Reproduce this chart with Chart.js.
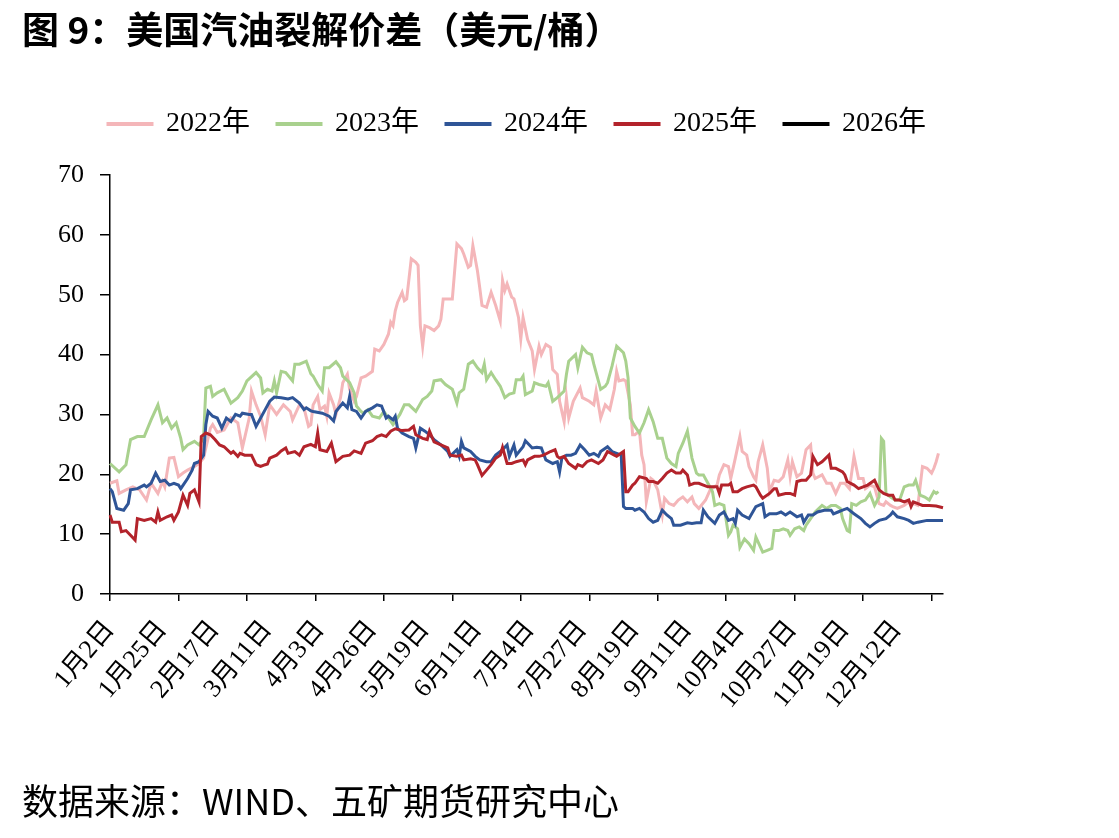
<!DOCTYPE html>
<html>
<head>
<meta charset="utf-8">
<script src="https://cdn.jsdelivr.net/npm/chart.js@4.4.1/dist/chart.umd.min.js"></script>
<style>
  body { margin: 0; background: #fff; }
  #page { position: relative; width: 1119px; height: 838px; overflow: hidden; }
  #title { position: absolute; left: 22px; top: 8px; font: 700 37px "Noto Sans CJK SC", sans-serif; line-height: 1.1; color: #000; white-space: nowrap; }
  #source { position: absolute; left: 22px; top: 780px; font: 400 36px "Noto Sans CJK SC", sans-serif; line-height: 1.1; color: #000; white-space: nowrap; }
  #wrap { position: absolute; left: 0; top: 0; width: 1119px; height: 838px; }
</style>
</head>
<body>
<div id="page">
  <div id="wrap"><canvas id="chart" aria-label="美国汽油裂解价差"></canvas></div>
  <div id="title">图 9：美国汽油裂解价差（美元/桶）</div>
  <div id="source">数据来源：WIND、五矿期货研究中心</div>
</div>
<script>
// x axis: one category per calendar day, starting 1月2日
const days = [];
for (let i = 0; i < 366; i++) {
  const d = new Date(2024, 0, 2 + i);
  days.push((d.getMonth() + 1) + '月' + d.getDate() + '日');
}

const seriesNames = ['2022年', '2023年', '2024年', '2025年', '2026年'];
const seriesColors = ['#F4B6B9', '#A9D18E', '#2F5597', '#B3232B', '#000000'];

// [day index, value]
const s2022 = [[0,18.5],[3,18.9],[4,16.8],[7,17.4],[10,17.9],[13,17.4],[16,15.7],[18,18.5],[21,16.8],[23,18.8],[24,17.9],[26,22.7],[28,22.8],[30,19.6],[32,20.2],[34,20.7],[37,21.3],[39,21.8],[41,22.7],[42,24.4],[44,27.7],[45,28.3],[47,27],[50,27.4],[53,29.4],[56,28.6],[58,24.4],[61,29.4],[62,33.9],[64,31.6],[66,29.7],[68,26.6],[70,31.6],[73,30],[76,31.6],[79,30.5],[80,29.1],[83,31.6],[85,31.1],[87,28],
  [88,28.3],[89,31.6],[91,33],[92,30.8],[94,31.4],[95,29.7],[96,33.6],[98,31.6],[99,30],[101,32.8],[102,35.3],[104,36.7],[105,34.2],[107,32.2],[108,33],[110,36.1],[112,36.4],[115,37.2],[116,40.9],[118,40.6],[120,41.7],[122,43.4],[123,45.4],[124,44.8],[125,47.3],[126,48.7],[128,50.4],[129,49],[130,49.3],[132,56],[134,55.4],[135,54.9],[136,44.8],[137,41.4],[138,44.8],[140,44.5],[142,44],[144,44.8],[145,45.9],[146,49.3],[148,49.3],[150,49.3],[152,58.5],[154,57.7],[155,56.8],[157,54.6],[158,54.9],[159,58.2],[161,54],[162,51.2],[163,48.2],[165,47.9],[167,50.4],[169,48.2],[171,45.6],[172,52.4],[173,50.7],[174,51.8],[176,49.6],[177,49.3],[179,46.2],
  [180,42.6],[181,46.2],[183,42.5],[185,40.6],[186,37.5],[188,41.4],[189,40],[191,41.7],[193,41.2],[194,37.5],[196,36.7],[197,32.2],[199,28.8],[200,32.8],[201,29.4],[203,32.2],[206,34.4],[207,32.8],[210,32.2],[212,31.6],[213,33.9],[215,29.4],[217,31.6],[219,30.8],[221,34.2],[222,37.2],[223,35.6],[225,35.8],[226,35.6],[228,31.6],[229,26.6],[230,26.6],[232,27.2],[233,23.2],[234,21.6],[235,15.4],[237,19.3],[238,19],[240,17.4],[242,13.2],[243,16],[245,15.1],[247,14.8],[249,15.7],[251,16.2],[253,15.4],[255,16.2],[256,15.1],[258,14.3],[261,15.7],[263,17.4],[266,18.2],[267,19.9],[269,21.6],[271,21.3],
  [272,19.3],[273,21],[274,22.7],[276,26.3],[277,23.8],[279,23.2],[280,21.3],[282,19.6],[283,19],[284,22.1],[286,24.9],[288,21],[289,17.1],[291,19],[293,18.8],[295,19.6],[297,22.4],[298,19.6],[299,22.1],[301,19.6],[303,20.2],[305,24.1],[307,24.9],[308,20.2],[309,19.3],[312,19.9],[314,18.5],[316,18.5],[318,16.8],[320,18.5],[322,18.5],[324,17.6],[326,23],[328,19.3],[330,19.3],[331,17.6],[333,18.2],[335,17.9],[337,15.1],[339,14.8],[340,15.4],[342,14.8],[343,14.6],[345,14.3],[348,14.8],[350,15.4],[352,15.1],[354,14.8],[356,21.3],[358,21],[360,20.2],[361,21],[362,22.1],[363,23.5]];

const s2023 = [[0,21.8],[4,20.4],[7,21.6],[9,25.8],[12,26.3],[15,26.3],[18,29.1],[21,31.6],[23,28.6],[25,29.4],[27,27.7],[29,28.6],[31,26],[32,24.1],[34,24.9],[37,25.5],[39,24.9],[41,26],[42,34.4],[44,34.7],[45,33],[47,33.6],[50,34.2],[53,31.9],[56,32.8],[58,33.9],[60,35.6],[64,37],[66,36.1],[67,33.6],[69,34.2],[71,33.9],[72,35.6],[73,33.6],[75,37.2],[77,37],[80,35.6],[81,38.4],[83,38.4],[86,38.9],
  [88,36.8],[89,36.4],[91,35],[93,33.9],[94,37.8],[96,37.8],[99,38.8],[101,37.8],[102,36.4],[105,35.3],[107,33.6],[108,31.4],[110,30.5],[111,30.2],[113,30.8],[115,29.7],[118,29.4],[120,30.5],[122,29.4],[124,28.3],[127,30],[129,31.6],[131,31.6],[134,30.5],[137,32.5],[139,33],[141,33.9],[142,35.6],[145,35.8],[147,35],[150,34.2],[152,31.9],[153,33.6],[155,34.2],[157,38.4],[159,38.9],[161,37.8],[163,37],[164,38.4],[165,35.8],[167,37],[169,35.8],[171,34.7],[173,32.8],[175,33.4],[177,33.6],[178,35.8],
  [180,35.8],[181,36.4],[182,33.3],[185,33.9],[186,35.3],[188,35],[191,34.7],[192,35.3],[194,32.2],[196,32.8],[199,33.9],[200,36.7],[201,38.9],[204,40],[205,37.8],[207,41.2],[209,40.3],[211,40],[212,38.4],[215,34.2],[217,34.7],[218,35.3],[220,38.1],[221,39.8],[222,41.4],[225,40.3],[226,38.9],[227,36.1],[228,29.4],[230,28],[232,26.9],[234,28.6],[236,30.8],[238,28.8],[240,26],[242,26],[244,22.7],[246,21.8],[248,21.3],[249,23.5],[251,25.2],[253,27.2],[255,22.7],[257,20.2],[258,19.9],[260,19.9],[262,18.5],[264,17.1],[265,14.8],[267,15.1],[269,14.8],[270,12.3],[271,9.8],
  [272,10.4],[273,11.5],[275,10.9],[276,7.8],[278,9.2],[280,8.4],[282,7.3],[283,9.5],[286,7],[288,7.3],[290,7.6],[291,10.6],[293,10.6],[295,10.9],[297,10.6],[298,9.8],[300,10.9],[302,11.2],[304,10.6],[305,11.5],[307,12.6],[309,13.7],[312,14.8],[314,14.3],[316,14.8],[318,14.8],[320,14.3],[321,12.6],[323,10.6],[324,10.4],[325,15.1],[327,14.8],[329,15.4],[331,15.7],[333,16.8],[335,14.8],[337,16.2],[338,26],[339,25.5],[340,16.8],[342,16.2],[344,15.7],[346,15.7],[348,17.9],[350,18.2],[352,18.2],[353,19],[355,16.5],[357,16.2],[359,15.7],[361,17.1],[362,16.8],[363,17.1]];

const s2024 = [[0,17.6],[1,17.1],[3,14.3],[6,14],[8,15.1],[9,17.4],[12,17.6],[15,18.2],[16,17.9],[18,18.5],[20,20.2],[22,18.8],[24,19],[26,18.2],[28,18.5],[30,18.2],[31,17.6],[34,19.3],[36,20.7],[37,21.8],[39,22.1],[41,23.2],[42,28.3],[43,30.5],[45,29.7],[47,29.4],[49,27.7],[51,29.4],[53,28.8],[55,30],[57,29.7],[58,30.2],[61,30],[62,30],[64,28],[66,29.4],[68,30.8],[70,32.2],[72,32.9],[75,32.8],[78,32.6],[80,32.8],[83,31.9],[85,30.8],[86,31.1],[88,30.6],
  [89,30.5],[93,30.2],[96,29.7],[98,28.9],[99,30.5],[102,31.9],[104,31.1],[105,33],[106,30.8],[108,30.5],[110,29.4],[112,30.5],[115,31.1],[117,31.6],[119,31.4],[121,29.4],[122,29.7],[124,29.1],[125,29.7],[126,27.7],[128,26.9],[131,26.3],[133,26],[134,24.4],[135,26],[136,27.7],[138,27.2],[140,26.6],[142,25.8],[145,24.9],[148,23.8],[149,23],[152,24.1],[153,23],[154,25.5],[155,24.4],[158,23.8],[160,23],[162,22.4],[165,22.1],[167,22.1],[169,23.2],[172,24.1],[174,24.9],[175,23],[177,24.9],[178,23.2],[181,24.6],
  [182,25.6],[185,24.4],[187,24.5],[189,24.4],[191,22.4],[194,21.8],[196,22.1],[197,20.4],[198,22.7],[200,23.2],[202,23.2],[204,23.5],[206,24.9],[208,24.1],[210,23.2],[212,23.5],[214,23],[215,23.8],[218,24.6],[220,23.8],[222,23.5],[224,23.2],[225,14.6],[226,14.3],[229,14.3],[230,14],[232,14.3],[234,13.7],[236,12.6],[238,12],[240,12.3],[242,14],[244,13.2],[246,12.6],[247,11.5],[250,11.5],[253,11.9],[255,11.8],[257,11.9],[259,11.9],[260,14],[262,12.9],[265,11.8],[267,13.2],[269,13.7],[271,12.3],[273,12.6],[274,11.8],
  [275,14],[277,13.2],[280,12.6],[283,14.6],[286,15.1],[287,12.9],[289,13.4],[292,13.4],[294,13.7],[296,13.2],[298,13.7],[301,12.9],[303,13.2],[304,12],[306,13.2],[308,13.2],[310,13.7],[313,14],[316,14],[317,13.4],[319,13.7],[321,14],[323,14.3],[326,13.4],[329,12.6],[331,11.8],[333,11.2],[335,11.8],[337,12.3],[340,12.6],[342,13.2],[343,13.7],[345,12.9],[348,12.6],[350,12.3],[352,11.8],[354,12],[358,12.3],[361,12.3],[365,12.3]];

const s2025 = [[0,13.2],[1,12],[4,12],[5,10.4],[7,10.6],[9,9.8],[11,9],[12,12.6],[15,12.3],[18,12.6],[20,12],[21,13.7],[22,12.3],[25,12.9],[27,13.2],[28,12.3],[30,13.7],[32,16.5],[34,14.8],[35,16.8],[37,17.4],[39,15.4],[40,26.3],[42,26.9],[44,26.6],[46,25.8],[48,24.9],[50,24.6],[53,23.5],[54,23.8],[56,23],[57,23.5],[59,23.2],[62,23.2],[64,21.6],[66,21.3],[68,21.6],[69,21.7],[70,22.7],[73,23.2],[75,23.9],[77,24.4],[78,23.5],[81,23.8],[83,23.2],[85,24.6],[88,25],
  [90,24.6],[91,26.9],[92,24.1],[95,23.8],[97,25.2],[99,22.1],[102,23],[105,23.2],[107,23.9],[110,23.5],[112,25.2],[115,25.6],[117,26.3],[119,26.6],[121,26.3],[123,27.2],[125,27.6],[128,27.3],[131,27.4],[133,28],[134,26.6],[137,26],[139,25.8],[140,27.2],[142,25.4],[145,24.9],[148,24.4],[149,23.2],[152,23],[154,23.2],[155,22.4],[158,22.6],[160,22.4],[161,21.6],[163,19.8],[165,20.7],[167,21.6],[169,22.7],[171,23.2],[172,24.5],[174,21.8],[176,21.8],[178,22.1],[181,22.4],
  [182,21.6],[183,22.4],[186,23],[188,23],[190,23.2],[193,23.8],[195,24.1],[196,23],[197,22.7],[199,23],[201,21.8],[204,21],[205,21.6],[207,21.3],[209,22.1],[211,22.4],[214,21.8],[216,22.4],[218,23.8],[221,23.2],[222,23],[225,23.8],[226,17.1],[227,17.1],[229,18.2],[230,18.5],[232,19.6],[235,19.3],[236,18.8],[238,18.8],[240,18.5],[242,19.3],[244,20.2],[246,20.7],[248,20.2],[250,20.2],[251,20.7],[253,19.9],[254,18.2],[256,18.5],[258,18.5],[260,18.2],[262,17.9],[266,17.9],[267,16.8],[268,18.2],[271,18.2],
  [272,18.5],[273,17.1],[275,17.1],[277,17.6],[279,17.9],[282,18.2],[283,17.9],[285,16.5],[286,16],[289,16.8],[291,17.6],[292,17.6],[293,16.5],[296,16.8],[298,16.8],[300,16.5],[301,18.8],[303,19],[305,19],[307,19.9],[308,23],[310,21.6],[312,22.1],[315,23.2],[316,21],[318,21],[321,20.4],[322,19.9],[323,18.8],[326,18.2],[328,17.6],[330,17.9],[332,18.2],[335,19],[337,17.4],[339,16.8],[341,16.5],[343,16.5],[344,15.7],[346,15.7],[348,15.4],[350,15.7],[351,14.6],[352,15.4],[354,15.1],[356,14.8],[359,14.8],[362,14.7],[365,14.4]];

const s2026 = [];

const yTicks = [0, 10, 20, 30, 40, 50, 60, 70];
const labelEvery = 23;  // 1月2日, 1月25日, ...
const tickEvery = 30;

const allSeries = [s2022, s2023, s2024, s2025, s2026];
const serif = '"Liberation Serif", "Noto Sans CJK SC", serif';

const ctx = document.getElementById('chart');
new Chart(ctx, {
  type: 'line',
  data: {
    labels: days,
    datasets: allSeries.map((s, k) => ({
      label: seriesNames[k],
      data: s.map(p => ({ x: days[p[0]], y: p[1] })),
      borderColor: seriesColors[k],
      backgroundColor: seriesColors[k],
      borderWidth: 3,
      pointRadius: 0,
      tension: 0,
      order: 5 - k
    }))
  },
  options: {
    responsive: true,
    maintainAspectRatio: false,
    animation: false,
    devicePixelRatio: 1,
    layout: {
      padding: { left: 50, right: 135, top: 83, bottom: 114 }
    },
    plugins: {
      tooltip: { enabled: false },
      legend: {
        position: 'top',
        labels: {
          boxWidth: 44,
          boxHeight: 1,
          padding: 27,
          color: '#000',
          font: { family: serif, size: 28 },
          sort: (a, b) => a.datasetIndex - b.datasetIndex
        }
      }
    },
    scales: {
      x: {
        type: 'category',
        offset: false,
        grid: {
          drawOnChartArea: false,
          tickLength: 7,
          lineWidth: 1.5,
          tickColor: c => (c.index % tickEvery === 0 ? '#000' : 'rgba(0,0,0,0)')
        },
        border: { color: '#000', width: 1.5 },
        ticks: {
          autoSkip: false,
          minRotation: 50,
          maxRotation: 50,
          padding: 14,
          color: '#000',
          font: { family: serif, size: 26 },
          callback: function (v, i) { return i % labelEvery === 0 ? days[i] : ''; }
        },
        afterFit: s => { s.height = 130; }
      },
      y: {
        min: 0,
        max: 70,
        afterBuildTicks: s => { s.ticks = yTicks.map(v => ({ value: v })); },
        grid: { drawOnChartArea: false, tickLength: 10, lineWidth: 1.5, tickColor: '#000' },
        border: { color: '#000', width: 1.5 },
        ticks: { padding: 16, color: '#000', font: { family: serif, size: 26 } },
        afterFit: s => { s.width = 60; }
      },
      // empty boxes that only reserve space, like the gaps in the original
      gapTop: {
        type: 'linear', position: 'top', display: true,
        grid: { display: false }, border: { display: false }, ticks: { display: false },
        afterFit: s => { s.height = 27; }
      },
      gapRight: {
        type: 'linear', position: 'right', display: true,
        grid: { display: false }, border: { display: false }, ticks: { display: false },
        afterFit: s => { s.width = 41; }
      }
    }
  }
});
</script>
</body>
</html>
